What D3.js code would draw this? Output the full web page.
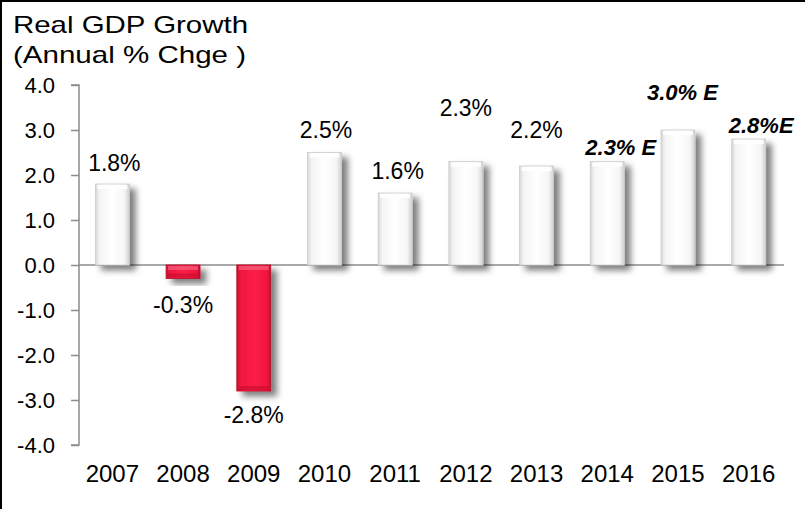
<!DOCTYPE html>
<html><head><meta charset="utf-8">
<script src="https://cdn.jsdelivr.net/npm/d3@7"></script>
<style>html,body{margin:0;padding:0;background:#fff;}svg{display:block;}text{font-family:Arial,"Liberation Sans",sans-serif;}</style>
</head><body>
<script>
const years = ["2007","2008","2009","2010","2011","2012","2013","2014","2015","2016"];
const growth = [1.8, -0.3, -2.8, 2.5, 1.6, 2.3, 2.2, 2.3, 3.0, 2.8];
const valueLabels = ["1.8%","-0.3%","-2.8%","2.5%","1.6%","2.3%","2.2%","2.3% E","3.0% E","2.8%E"];
const estimate = [false,false,false,false,false,false,false,true,true,true];
const yTicks = [-4,-3,-2,-1,0,1,2,3,4];
const titleLines = ["Real GDP Growth","(Annual % Chge )"];

// label placement (px offsets from bar end), layout only
const labelDx = [2,0,0,1.5,2.5,0,0,13.5,4.5,12.5];
const labelDy = [-21,26.5,24,-22.5,-22,-53.5,-36,-14.5,-38,-14];

const W=805,H=509;
const svg=d3.select("body").append("svg").attr("width",W).attr("height",H);
const defs=svg.append("defs");
const f=defs.append("filter").attr("id","sh").attr("x","-50%").attr("y","-50%").attr("width","200%").attr("height","200%");
f.append("feDropShadow").attr("dx",6).attr("dy",5).attr("stdDeviation",3).attr("flood-color","#000").attr("flood-opacity",0.5);
function hgrad(id,stops){const g=defs.append("linearGradient").attr("id",id).attr("x1","0").attr("x2","1").attr("y1","0").attr("y2","0");
 stops.forEach(s=>g.append("stop").attr("offset",s[0]).attr("stop-color",s[1]));}
hgrad("wg",[[0,"#d6d6d6"],[0.12,"#f4f4f4"],[0.5,"#ffffff"],[0.85,"#f6f6f6"],[1,"#d0d0d0"]]);
hgrad("rg",[[0,"#c80f30"],[0.12,"#f0163f"],[0.5,"#fb1d47"],[0.88,"#f0163f"],[1,"#c20d2c"]]);

const x=d3.scaleBand().domain(years).range([77,784]).paddingInner(0.52).paddingOuter(0.26);
const y=d3.scaleLinear().domain([-4,4]).range([445,85]);
const fmt=v=>d3.format(".1f")(v).replace("\u2212","-");

// border
svg.append("line").attr("x1",1).attr("x2",1).attr("y1",0).attr("y2",H).attr("stroke","#000").attr("stroke-width",2);
svg.append("line").attr("x1",0).attr("x2",W).attr("y1",1).attr("y2",1).attr("stroke","#000").attr("stroke-width",2);

// title
svg.selectAll("text.title").data(titleLines).join("text").attr("class","title")
 .attr("x",13).attr("y",(d,i)=>33+i*30).attr("font-size",24).attr("fill","#000")
 .attr("textLength",(d,i)=>i==0?235:233).attr("lengthAdjust","spacingAndGlyphs").text(d=>d);

// y axis
const yAxis=d3.axisLeft(y).tickValues(yTicks).tickFormat(fmt).tickSize(8).tickPadding(16);
const ya=svg.append("g").attr("transform","translate(79,0)").call(yAxis);
ya.select(".domain").attr("stroke","#8c8c8c").attr("stroke-width",1.5).attr("d","M-8,85H0V445H-8");
ya.selectAll(".tick line").attr("stroke","#8c8c8c").attr("stroke-width",1.5);
ya.selectAll(".tick text").attr("font-size",22).attr("fill","#000").attr("font-family","Arial,'Liberation Sans',sans-serif").attr("dy","0.36em");

// zero line
svg.append("line").attr("x1",79).attr("x2",784).attr("y1",y(0)).attr("y2",y(0)).attr("stroke","#8c8c8c").attr("stroke-width",1.5);

// bars
const data=years.map((yr,i)=>({yr,v:growth[i],lab:valueLabels[i],est:estimate[i],dx:labelDx[i],dy:labelDy[i]}));
const bg=svg.append("g");
const bars=bg.selectAll("g.bar").data(data).join("g").attr("class","bar");
bars.append("rect").attr("x",d=>x(d.yr)).attr("width",x.bandwidth())
 .attr("y",d=>Math.min(y(d.v),y(0))).attr("height",d=>Math.abs(y(d.v)-y(0)))
 .attr("fill",d=>d.v<0?"url(#rg)":"url(#wg)").attr("filter","url(#sh)")
 .attr("stroke",d=>d.v<0?"#b80c2a":"#cccccc").attr("stroke-width",0.8);
// bevel highlights
bars.append("rect").attr("x",d=>x(d.yr)+2).attr("width",x.bandwidth()-4)
 .attr("y",d=>Math.min(y(d.v),y(0))+1).attr("height",d=>Math.min(4,Math.abs(y(d.v)-y(0))/3))
 .attr("fill",d=>d.v<0?"#f7627e":"#ffffff").attr("opacity",d=>d.v<0?0.7:0.9);
bars.filter(d=>d.v<0).append("rect").attr("x",d=>x(d.yr)+2).attr("width",x.bandwidth()-4)
 .attr("y",d=>Math.max(y(d.v),y(0))-Math.min(4,Math.abs(y(d.v)-y(0))/3)-1).attr("height",d=>Math.min(4,Math.abs(y(d.v)-y(0))/3))
 .attr("fill","#c40e2e").attr("opacity",0.6);

// value labels
svg.selectAll("text.vl").data(data).join("text").attr("class","vl")
 .attr("x",d=>x(d.yr)+x.bandwidth()/2+d.dx).attr("y",d=>y(d.v)+d.dy).attr("dy","0.36em")
 .attr("text-anchor","middle").attr("font-size",d=>d.est?22:23)
 .attr("font-weight",d=>d.est?"bold":"normal").attr("font-style",d=>d.est?"italic":"normal")
 .attr("fill","#000").text(d=>d.lab);

// x labels
svg.selectAll("text.xl").data(years).join("text").attr("class","xl")
 .attr("x",d=>x(d)+x.bandwidth()/2).attr("y",482).attr("text-anchor","middle")
 .attr("font-size",24).attr("fill","#000").text(d=>d);
</script>
</body></html>
